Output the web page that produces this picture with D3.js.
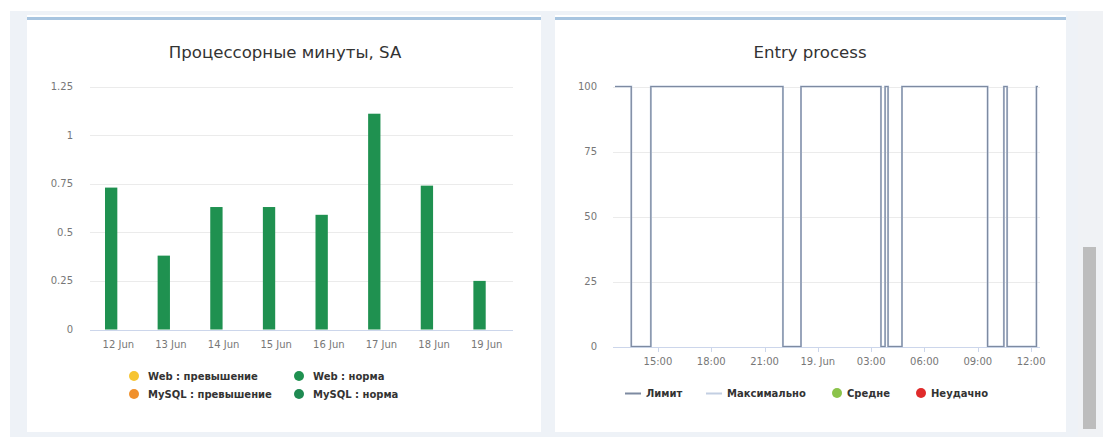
<!DOCTYPE html>
<html>
<head>
<meta charset="utf-8">
<script src="https://cdn.jsdelivr.net/npm/d3@7"></script>
<style>
  html, body { margin: 0; padding: 0; background: #ffffff; }
  svg { display: block; }
  text { font-family: "DejaVu Sans", "Noto Sans", sans-serif; }
</style>
</head>
<body>
<svg id="dash" width="1103" height="437"></svg>
<script>
// ---- CPU minutes per day (stacked by service) ----
const days = ["12 Jun", "13 Jun", "14 Jun", "15 Jun", "16 Jun", "17 Jun", "18 Jun", "19 Jun"];
const webOver   = [0, 0, 0, 0, 0, 0, 0, 0];
const mysqlOver = [0, 0, 0, 0, 0, 0, 0, 0];
const webNorm   = [0.73, 0.38, 0.63, 0.63, 0.59, 1.11, 0.74, 0.25];
const mysqlNorm = [0, 0, 0, 0, 0, 0, 0, 0];
const cpuTicks = [0, 0.25, 0.5, 0.75, 1, 1.25];
const cpuTickLabels = ["0", "0.25", "0.5", "0.75", "1", "1.25"];

// ---- Entry process, last 24 hours ----
const entryTimes = [
  "2024-06-18T12:35", "2024-06-18T13:30", "2024-06-18T14:36", "2024-06-18T22:02",
  "2024-06-18T23:03", "2024-06-19T03:33", "2024-06-19T03:47", "2024-06-19T03:57",
  "2024-06-19T04:44", "2024-06-19T09:33", "2024-06-19T10:28", "2024-06-19T10:39",
  "2024-06-19T12:18", "2024-06-19T12:23"
];
const limitValues = [100, 0, 100, 0, 100, 0, 100, 0, 100, 0, 100, 0, 100, 100];
const maxValues   = [100, 0, 100, 0, 100, 0, 100, 0, 100, 0, 100, 0, 100, 100];
const entryTicks = ["2024-06-18T15:00", "2024-06-18T18:00", "2024-06-18T21:00", "2024-06-19T00:00",
                    "2024-06-19T03:00", "2024-06-19T06:00", "2024-06-19T09:00", "2024-06-19T12:00"];
const entryTickLabels = ["15:00", "18:00", "21:00", "19. Jun", "03:00", "06:00", "09:00", "12:00"];
const entryYTicks = [0, 25, 50, 75, 100];

const svg = d3.select("#dash");
const parse = d3.timeParse("%Y-%m-%dT%H:%M");

// page & panels
svg.append("rect").attr("x", 10).attr("y", 11).attr("width", 1093).attr("height", 426).attr("fill", "#eef2f7");
[[27, 514], [555, 511]].forEach(([x, w]) => {
  svg.append("rect").attr("x", x).attr("y", 15).attr("width", w).attr("height", 417).attr("fill", "#ffffff");
  svg.append("rect").attr("x", x).attr("y", 17).attr("width", w).attr("height", 3).attr("fill", "#a8c5e0");
});
// page scrollbar
svg.append("rect").attr("x", 1078).attr("y", 11).attr("width", 25).attr("height", 426).attr("fill", "#f0f2f5");
svg.append("rect").attr("x", 1083).attr("y", 247).attr("width", 13).attr("height", 182).attr("fill", "#bdbdbd");

// ================= left chart =================
const L = svg.append("g");
L.append("text").attr("x", 285).attr("y", 58).attr("text-anchor", "middle")
  .attr("font-size", 16.6).attr("fill", "#333").text("Процессорные минуты, SA");

const yL = d3.scaleLinear().domain([0, 1.25]).range([329.5, 86.5]);
const xL = d3.scaleBand().domain(days).range([92, 513]);
const stacksL = d3.scaleBand().domain(["Web", "MySQL"]).range([13, 40]).paddingInner(0.16);

L.append("g").selectAll("line").data(cpuTicks).join("line")
  .attr("x1", 90).attr("x2", 513)
  .attr("y1", d => Math.round(yL(d)) + 0.5).attr("y2", d => Math.round(yL(d)) + 0.5)
  .attr("stroke", d => d === 0 ? "#ccd6eb" : "#ebebeb");
L.append("g").selectAll("text").data(cpuTicks).join("text")
  .attr("x", 73).attr("y", d => yL(d) + 3.5).attr("text-anchor", "end")
  .attr("font-size", 10).attr("fill", "#777")
  .text((d, i) => cpuTickLabels[i]);

const rows = days.map((day, i) => ({
  day, webOver: webOver[i], mysqlOver: mysqlOver[i], webNorm: webNorm[i], mysqlNorm: mysqlNorm[i]
}));
const stackGroups = [
  { stack: "Web",   keys: ["webNorm", "webOver"],     colors: { webNorm: "#1f9150", webOver: "#f6c431" } },
  { stack: "MySQL", keys: ["mysqlNorm", "mysqlOver"], colors: { mysqlNorm: "#1f8a52", mysqlOver: "#f0902c" } }
];
stackGroups.forEach(g => {
  const layers = d3.stack().keys(g.keys)(rows);
  layers.forEach(layer => {
    L.append("g").selectAll("rect").data(layer).join("rect")
      .attr("x", d => xL(d.data.day) + stacksL(g.stack))
      .attr("width", stacksL.bandwidth())
      .attr("y", d => yL(d[1]))
      .attr("height", d => yL(d[0]) - yL(d[1]))
      .attr("fill", g.colors[layer.key]);
  });
});
L.append("g").selectAll("text").data(days).join("text")
  .attr("x", d => xL(d) + xL.bandwidth() / 2).attr("y", 348).attr("text-anchor", "middle")
  .attr("font-size", 10).attr("fill", "#777").text(d => d);

const legendL = [
  { name: "Web : превышение",   color: "#f6c431", x: 134, y: 376 },
  { name: "MySQL : превышение", color: "#f0902c", x: 134, y: 394 },
  { name: "Web : норма",        color: "#1f9150", x: 299, y: 376 },
  { name: "MySQL : норма",      color: "#1f8a52", x: 299, y: 394 }
];
const lg = L.append("g").selectAll("g").data(legendL).join("g");
lg.append("circle").attr("cx", d => d.x).attr("cy", d => d.y).attr("r", 5).attr("fill", d => d.color);
lg.append("text").attr("x", d => d.x + 14).attr("y", d => d.y + 3.5)
  .attr("font-size", 10).attr("font-weight", "bold").attr("fill", "#333").text(d => d.name);

// ================= right chart =================
const R = svg.append("g");
R.append("text").attr("x", 810).attr("y", 58).attr("text-anchor", "middle")
  .attr("font-size", 16.6).attr("fill", "#333").text("Entry process");

const yR = d3.scaleLinear().domain([0, 100]).range([346.5, 86.5]);
const xR = d3.scaleTime().domain([parse("2024-06-18T12:35"), parse("2024-06-19T12:30")]).range([615, 1040]);

R.append("g").selectAll("line").data(entryYTicks).join("line")
  .attr("x1", 613).attr("x2", 1040)
  .attr("y1", d => Math.round(yR(d)) + 0.5).attr("y2", d => Math.round(yR(d)) + 0.5)
  .attr("stroke", d => d === 0 ? "#ccd6eb" : "#ebebeb");
R.append("g").selectAll("text").data(entryYTicks).join("text")
  .attr("x", 597).attr("y", d => yR(d) + 3.5).attr("text-anchor", "end")
  .attr("font-size", 10).attr("fill", "#777").text(d => d);

const tickDates = entryTicks.map(parse);
R.append("g").selectAll("line").data(tickDates).join("line")
  .attr("x1", d => Math.round(xR(d)) + 0.5).attr("x2", d => Math.round(xR(d)) + 0.5)
  .attr("y1", 347).attr("y2", 352).attr("stroke", "#ccd6eb");
R.append("g").selectAll("text").data(tickDates).join("text")
  .attr("x", d => xR(d)).attr("y", 365).attr("text-anchor", "middle")
  .attr("font-size", 10).attr("fill", "#777").text((d, i) => entryTickLabels[i]);

const entryLine = d3.line().x(d => xR(d.t)).y(d => yR(d.v)).curve(d3.curveStepAfter);
const maxSeries = entryTimes.map((t, i) => ({ t: parse(t), v: maxValues[i] }));
const limitSeries = entryTimes.map((t, i) => ({ t: parse(t), v: limitValues[i] }));
R.append("path").attr("d", entryLine(maxSeries)).attr("fill", "none")
  .attr("stroke", "#c3cfe2").attr("stroke-width", 2);
R.append("path").attr("d", entryLine(limitSeries)).attr("fill", "none")
  .attr("stroke", "#7d8aa1").attr("stroke-width", 1.2);

const legendR = [
  { name: "Лимит",       type: "line",   color: "#7d8aa1", x: 625 },
  { name: "Максимально", type: "line",   color: "#c3cfe2", x: 706 },
  { name: "Средне",      type: "circle", color: "#8bc34a", x: 837 },
  { name: "Неудачно",    type: "circle", color: "#e02b2b", x: 921 }
];
const ly = 393;
const rg = R.append("g").selectAll("g").data(legendR).join("g");
rg.filter(d => d.type === "line").append("line")
  .attr("x1", d => d.x).attr("x2", d => d.x + 16).attr("y1", ly + 0.5).attr("y2", ly + 0.5)
  .attr("stroke", d => d.color).attr("stroke-width", 2);
rg.filter(d => d.type === "circle").append("circle")
  .attr("cx", d => d.x).attr("cy", ly).attr("r", 5).attr("fill", d => d.color);
rg.append("text").attr("x", d => d.type === "line" ? d.x + 21 : d.x + 10).attr("y", ly + 3.5)
  .attr("font-size", 10).attr("font-weight", "bold").attr("fill", "#333").text(d => d.name);
</script>
</body>
</html>
